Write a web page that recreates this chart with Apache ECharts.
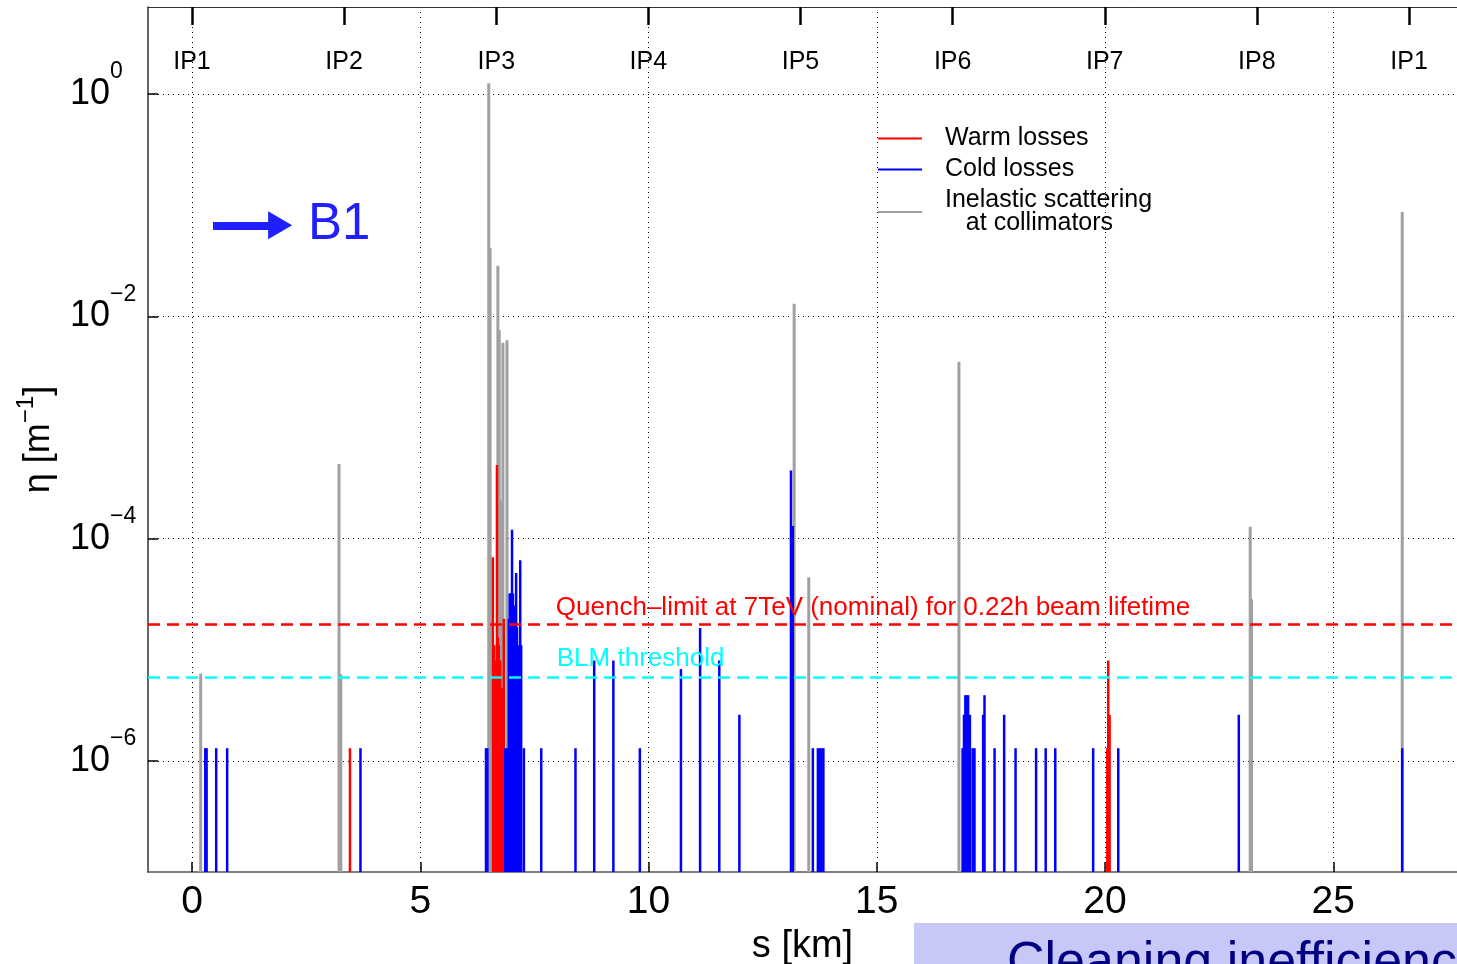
<!DOCTYPE html>
<html>
<head>
<meta charset="utf-8">
<script src="https://cdn.jsdelivr.net/npm/echarts@6.0.0/dist/echarts.min.js"></script>
<style>
  html, body { margin: 0; padding: 0; background: #fff; }
  #chart { width: 1457px; height: 964px; }
</style>
</head>
<body>
<div id="chart"></div>
<script>
var FONT = "'Liberation Sans', Arial, Helvetica, sans-serif";

// interaction points along the ring [km]
var ipNames = ['IP1', 'IP2', 'IP3', 'IP4', 'IP5', 'IP6', 'IP7', 'IP8', 'IP1'];
var ipPos = [0, 3.332, 6.665, 9.997, 13.329, 16.662, 19.994, 23.326, 26.659];

// tick labels
var sTicks = [0, 5, 10, 15, 20, 25];
var etaTicks = [1e-6, 1e-4, 1e-2, 1];

// warm losses (red)
var sWarm = [3.46, 6.59, 6.62, 6.64, 6.68, 6.70, 6.72, 6.75, 6.79, 6.83, 6.85, 20.05, 20.07, 20.10];
var etaWarm = [1.3e-6, 6.8e-5, 1.1e-5, 8e-6, 4.6e-4, 1.3e-5, 1.1e-5, 8e-6, 4.5e-6, 1.9e-5, 1.3e-6, 1.3e-6, 8e-6, 2.6e-6];

// cold losses (blue)
var sCold = [0.29, 0.32, 0.53, 0.77, 3.69,
  6.44, 6.47, 6.86, 6.90, 6.94, 6.96, 6.98, 7.01, 7.03, 7.05, 7.08, 7.10, 7.12, 7.14, 7.19, 7.21, 7.27,
  7.65, 8.40, 8.81, 9.23, 9.81, 10.71, 11.13, 11.55, 11.99,
  13.12, 13.16, 13.60, 13.71, 13.75, 13.79, 13.83,
  16.88, 16.91, 16.94, 16.97, 17.00, 17.04, 17.10, 17.14, 17.33, 17.36, 17.58, 17.79,
  18.04, 18.49, 18.70, 18.91, 19.74, 20.29, 22.93, 26.51];
var etaCold = [1.3e-6, 1.3e-6, 1.3e-6, 1.3e-6, 1.3e-6,
  1.3e-6, 1.3e-6, 1.3e-6, 1.3e-6, 1.9e-5, 3.2e-5, 3.2e-5, 1.2e-4, 3.2e-5, 1.6e-5, 2.5e-5, 4.9e-5, 1.6e-5, 1.1e-5, 6.4e-5, 1.1e-5, 1.3e-6,
  1.3e-6, 1.3e-6, 8e-6, 8e-6, 1.3e-6, 6.7e-6, 1.57e-5, 8e-6, 2.6e-6,
  4.1e-4, 1.3e-4, 1.3e-6, 1.3e-6, 1.3e-6, 1.3e-6, 1.3e-6,
  1.3e-6, 2.6e-6, 3.9e-6, 3.9e-6, 3.9e-6, 2.6e-6, 1.3e-6, 1.3e-6, 2.6e-6, 3.9e-6, 1.3e-6, 2.6e-6,
  1.3e-6, 1.3e-6, 1.3e-6, 1.3e-6, 1.3e-6, 1.3e-6, 2.6e-6, 1.3e-6];

// inelastic scattering at collimators (grey)
var sColl = [0.19, 3.22, 3.26, 6.50, 6.53, 6.70, 6.73, 6.77, 6.81, 6.90, 13.19, 13.51, 16.80, 23.18, 23.21, 26.51];
var etaColl = [6.1e-6, 4.7e-4, 6e-6, 1.25, 0.041, 0.0286, 0.0075, 2.2e-4, 0.0058, 0.0061, 0.013, 4.5e-5, 0.0039, 1.28e-4, 2.85e-5, 0.087];

var quenchLimit = 1.71e-5;
var blmThreshold = 5.6e-6;

var S_MIN = -0.964, S_MAX = 27.71;
var ETA_MIN = 1e-7, ETA_MAX = 6.08;

function pairs(s, eta) {
  return s.map(function (v, i) { return [v, eta[i]]; });
}

// vertical stems from the bottom of the axis up to the value
function stems(width) {
  return function (params, api) {
    var top = api.coord([api.value(0), api.value(1)]);
    var base = api.coord([api.value(0), ETA_MIN]);
    return {
      type: 'rect',
      shape: { x: top[0] - width / 2, y: top[1], width: width, height: base[1] - top[1] },
      style: { fill: api.visual('color') }
    };
  };
}

function supLabel(v) {
  var e = Math.round(Math.log10(v));
  if (Math.abs(Math.log10(v) - e) > 0.01 || e % 2 !== 0) return '';
  return '{b|10}{s|' + (e === 0 ? '0' : '\u2212' + (-e)) + '}';
}

// horizontal dashed line across the whole s range
function hLine(y, color) {
  return [
    { coord: [S_MIN, y], lineStyle: { color: color, width: 2.5, type: [12, 7] } },
    { coord: [S_MAX, y] }
  ];
}

var dotted = { color: '#000', width: 1, type: [1, 4] };

var chart = echarts.init(document.getElementById('chart'));

var option = {
  animation: false,
  backgroundColor: '#fff',
  grid: { left: 148, right: 0, top: 7, bottom: 92, outerBoundsMode: 'none' },
  legend: {
    data: ['Warm losses', 'Cold losses', 'Inelastic scattering\n   at collimators'],
    orient: 'vertical',
    left: 878,
    top: 126,
    padding: 0,
    itemGap: 6,
    icon: 'rect',
    itemWidth: 44,
    itemHeight: 2,
    selectedMode: false,
    textStyle: { fontSize: 25, fontFamily: FONT, color: '#000', lineHeight: 23, padding: [0, 0, 0, 18] }
  },
  xAxis: [{
    type: 'value',
    position: 'bottom',
    min: S_MIN,
    max: S_MAX,
    name: 's [km]',
    nameLocation: 'middle',
    nameGap: 56,
    nameTextStyle: { fontSize: 38, fontFamily: FONT, color: '#000' },
    axisLine: { onZero: false, lineStyle: { color: '#555', width: 1.5 } },
    axisTick: { customValues: sTicks, inside: true, length: 10, lineStyle: { color: '#000', width: 1.5 } },
    axisLabel: { customValues: sTicks, fontSize: 39, fontFamily: FONT, color: '#000', margin: 11 },
    splitLine: { show: true, customValues: sTicks, lineStyle: dotted }
  }, {
    type: 'value',
    position: 'top',
    min: S_MIN,
    max: S_MAX,
    axisLine: { onZero: false, lineStyle: { color: '#333', width: 1 } },
    axisTick: { customValues: ipPos, inside: true, length: 18, lineStyle: { color: '#000', width: 2.5 } },
    axisLabel: {
      customValues: ipPos,
      inside: true,
      margin: 43,
      fontSize: 25,
      fontFamily: FONT,
      color: '#000',
      formatter: function (v) {
        for (var i = 0; i < ipPos.length; i++) {
          if (Math.abs(ipPos[i] - v) < 1e-6) return ipNames[i];
        }
        return '';
      }
    },
    splitLine: { show: false }
  }],
  yAxis: {
    type: 'log',
    logBase: 10,
    min: ETA_MIN,
    max: ETA_MAX,
    name: '{a|\u03b7 [m}{s|\u22121}{a|]}',
    nameLocation: 'middle',
    nameGap: 84,
    nameRotate: 90,
    nameTextStyle: {
      rich: {
        a: { fontSize: 36, fontFamily: FONT, color: '#000' },
        s: { fontSize: 24, fontFamily: FONT, color: '#000', padding: [0, 0, 26, 0] }
      }
    },
    axisLine: { onZero: false, lineStyle: { color: '#333', width: 1.5 } },
    axisTick: { customValues: etaTicks, inside: true, length: 10, lineStyle: { color: '#000', width: 1.5 } },
    axisLabel: {
      customValues: etaTicks,
      align: 'left',
      margin: 78,
      formatter: supLabel,
      rich: {
        b: { fontSize: 36, fontFamily: FONT, color: '#000' },
        s: { fontSize: 23, fontFamily: FONT, color: '#000', padding: [0, 0, 44, 0] }
      }
    },
    splitLine: { show: true, customValues: etaTicks, lineStyle: dotted }
  },
  series: [{
    name: 'Inelastic scattering\n   at collimators',
    type: 'custom',
    clip: true,
    itemStyle: { color: '#a0a0a0' },
    encode: { x: 0, y: 1 },
    renderItem: stems(3),
    data: pairs(sColl, etaColl)
  }, {
    name: 'Warm losses',
    type: 'custom',
    clip: true,
    itemStyle: { color: '#ff0000' },
    encode: { x: 0, y: 1 },
    renderItem: stems(2.5),
    data: pairs(sWarm, etaWarm)
  }, {
    name: 'Cold losses',
    type: 'custom',
    clip: true,
    itemStyle: { color: '#0000ff' },
    encode: { x: 0, y: 1 },
    renderItem: stems(2.5),
    data: pairs(sCold, etaCold)
  }, {
    name: 'annotations',
    type: 'line',
    data: [],
    markLine: {
      silent: true,
      symbol: 'none',
      label: { show: false },
      data: [
        hLine(quenchLimit, '#ff0000'),
        hLine(blmThreshold, '#00ffff'),
        [
          { coord: [0.46, 0.066], symbol: 'none', lineStyle: { color: '#1f1fff', width: 8, type: 'solid' } },
          { coord: [1.93, 0.066], symbol: 'triangle', symbolSize: [28, 24] }
        ]
      ]
    },
    markPoint: {
      silent: true,
      symbol: 'circle',
      symbolSize: 0,
      data: [{
        coord: [7.97, quenchLimit],
        label: {
          show: true, position: 'right', distance: 0, offset: [0, -16],
          formatter: 'Quench\u2013limit at 7TeV (nominal) for 0.22h beam lifetime',
          color: '#ff0000', fontSize: 26, fontFamily: FONT
        }
      }, {
        coord: [7.99, blmThreshold],
        label: {
          show: true, position: 'right', distance: 0, offset: [0, -19],
          formatter: 'BLM threshold',
          color: '#00ffff', fontSize: 26, fontFamily: FONT
        }
      }, {
        coord: [2.54, 0.066],
        label: {
          show: true, position: 'right', distance: 0, offset: [0, 0],
          formatter: 'B1',
          color: '#1f1fff', fontSize: 51, fontFamily: FONT
        }
      }]
    }
  }],
  graphic: [{
    type: 'rect',
    left: 914,
    top: 923,
    shape: { width: 543, height: 41 },
    style: { fill: '#c8c8f8' }
  }, {
    type: 'text',
    left: 1007,
    top: 938,
    style: { text: 'Cleaning inefficiency', fontSize: 52, fontFamily: FONT, fill: '#000080' }
  }]
};

chart.setOption(option);
</script>
</body>
</html>
